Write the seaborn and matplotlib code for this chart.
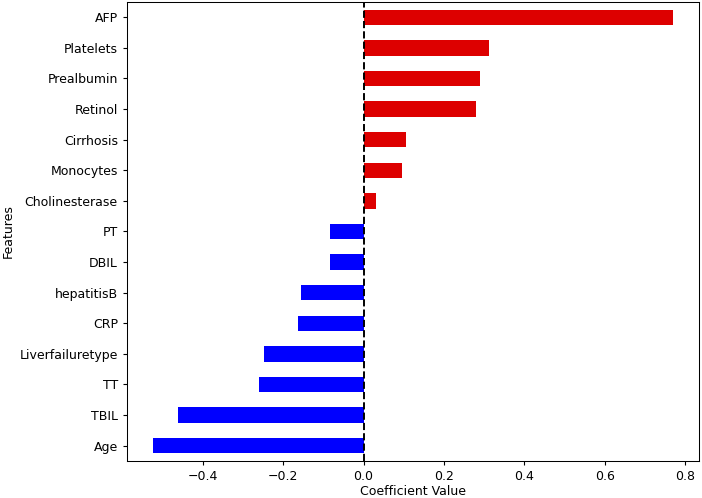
import pandas as pd
import seaborn as sns
import matplotlib.pyplot as plt

# Coefficients, top to bottom
features = ['AFP', 'Platelets', 'Prealbumin', 'Retinol', 'Cirrhosis', 'Monocytes',
            'Cholinesterase', 'PT', 'DBIL', 'hepatitisB', 'CRP', 'Liverfailuretype',
            'TT', 'TBIL', 'Age']
coefs = [0.770, 0.313, 0.290, 0.279, 0.106, 0.096, 0.030, -0.083, -0.083,
         -0.157, -0.163, -0.249, -0.261, -0.463, -0.524]

df = pd.DataFrame({'Feature': features, 'Coefficient': coefs})
df['sign'] = ['pos' if c > 0 else 'neg' for c in coefs]

plt.rcParams['font.size'] = 9
plt.rcParams['xtick.major.size'] = 3.2
plt.rcParams['ytick.major.size'] = 3.2
plt.rcParams['axes.linewidth'] = 0.75

fig, ax = plt.subplots(figsize=(7.02, 4.98), dpi=100)
fig.subplots_adjust(left=0.181, right=0.9957, top=0.996, bottom=0.0743)

sns.barplot(data=df, x='Coefficient', y='Feature', hue='sign', orient='h',
            palette={'pos': '#dd0000', 'neg': '#0000ff'}, width=0.5,
            dodge=False, legend=False, saturation=1, ax=ax)
ax.axvline(0, color='black', linestyle='--', linewidth=1.4)
ax.margins(x=0.05)
ax.set_xlabel('Coefficient Value', labelpad=1.5)
ax.set_ylabel('Features', labelpad=3)

plt.savefig('out.png', facecolor='white')
